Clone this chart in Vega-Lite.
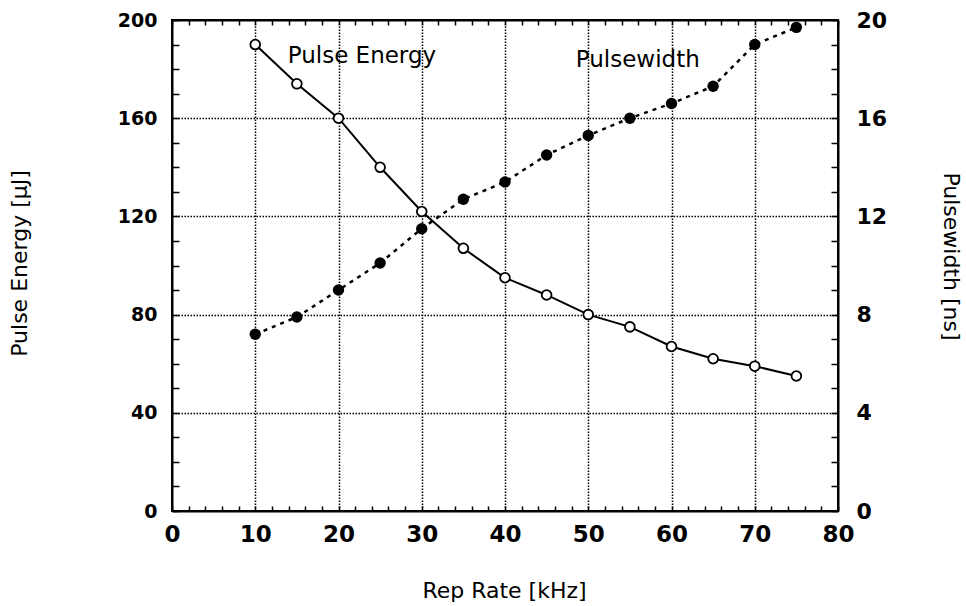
{
  "$schema": "https://vega.github.io/schema/vega-lite/v6.json",
  "width": 666,
  "height": 491,
  "autosize": {"type": "none"},
  "padding": {"left": 172, "top": 20, "right": 128, "bottom": 95},
  "background": "white",
  "config": {
    "view": {"stroke": "black", "strokeWidth": 2},
    "axis": {
      "domainColor": "black",
      "domainWidth": 2,
      "tickColor": "black",
      "tickWidth": 1.5,
      "labelColor": "black",
      "labelFont": "DejaVu Sans",
      "labelFontWeight": "bold",
      "labelOverlap": false,
      "labelFlush": false,
      "titleColor": "black",
      "titleFont": "DejaVu Sans",
      "titleFontWeight": "normal",
      "titleFontSize": 22,
      "gridColor": "black",
      "gridDash": [1.5, 1.5],
      "gridWidth": 1.5,
      "gridOpacity": 1
    }
  },
  "datasets": {
    "energy": [
      {"rate": 10, "energy": 190},
      {"rate": 15, "energy": 174},
      {"rate": 20, "energy": 160},
      {"rate": 25, "energy": 140},
      {"rate": 30, "energy": 122},
      {"rate": 35, "energy": 107},
      {"rate": 40, "energy": 95},
      {"rate": 45, "energy": 88},
      {"rate": 50, "energy": 80},
      {"rate": 55, "energy": 75},
      {"rate": 60, "energy": 67},
      {"rate": 65, "energy": 62},
      {"rate": 70, "energy": 59},
      {"rate": 75, "energy": 55}
    ],
    "pw": [
      {"rate": 10, "pulsewidth": 7.2},
      {"rate": 15, "pulsewidth": 7.9},
      {"rate": 20, "pulsewidth": 9.0},
      {"rate": 25, "pulsewidth": 10.1},
      {"rate": 30, "pulsewidth": 11.5},
      {"rate": 35, "pulsewidth": 12.7},
      {"rate": 40, "pulsewidth": 13.4},
      {"rate": 45, "pulsewidth": 14.5},
      {"rate": 50, "pulsewidth": 15.3},
      {"rate": 55, "pulsewidth": 16.0},
      {"rate": 60, "pulsewidth": 16.6},
      {"rate": 65, "pulsewidth": 17.3},
      {"rate": 70, "pulsewidth": 19.0},
      {"rate": 75, "pulsewidth": 19.7}
    ],
    "labels": [
      {"label": "Pulse Energy", "lx": 13.9, "ly": 182.4},
      {"label": "Pulsewidth", "lx": 48.5, "ly": 180.7}
    ]
  },
  "layer": [
    {
      "data": {"name": "energy"},
      "mark": {"type": "line", "color": "black", "strokeWidth": 2},
      "encoding": {
        "x": {
          "field": "rate",
          "type": "quantitative",
          "scale": {"domain": [0, 80], "nice": false, "zero": false},
          "axis": {
            "orient": "bottom",
            "values": [0,2,4,6,8,10,12,14,16,18,20,22,24,26,28,30,32,34,36,38,40,42,44,46,48,50,52,54,56,58,60,62,64,66,68,70,72,74,76,78,80],
            "labelExpr": "datum.value % 10 === 0 ? datum.label : ''",
            "grid": false,
            "tickSize": -5,
            "labelFontSize": 23,
            "labelPadding": 17,
            "title": "Rep Rate [kHz]",
            "titleX": 332,
            "titleY": 86,
            "titleBaseline": "alphabetic"
          }
        },
        "y": {
          "field": "energy",
          "type": "quantitative",
          "scale": {"domain": [0, 200], "nice": false},
          "axis": {
            "orient": "left",
            "values": [0,10,20,30,40,50,60,70,80,90,100,110,120,130,140,150,160,170,180,190,200],
            "labelExpr": "datum.value % 40 === 0 ? datum.label : ''",
            "grid": false,
            "tickSize": -7,
            "labelFontSize": 19,
            "labelPadding": 22,
            "title": "Pulse Energy [µJ]",
            "titleX": -153,
            "titleY": 243,
            "titleBaseline": "middle"
          }
        }
      }
    },
    {
      "data": {"name": "energy"},
      "mark": {"type": "point", "shape": "circle", "filled": true, "fill": "white", "stroke": "black", "strokeWidth": 1.8, "size": 95, "opacity": 1},
      "encoding": {
        "x": {
          "field": "rate",
          "type": "quantitative",
          "axis": {
            "orient": "bottom",
            "values": [10, 20, 30, 40, 50, 60, 70],
            "grid": true,
            "ticks": false,
            "labels": false,
            "domain": false,
            "title": null
          }
        },
        "y": {
          "field": "energy",
          "type": "quantitative",
          "scale": {"domain": [0, 200], "nice": false},
          "axis": {
            "orient": "left",
            "values": [40, 80, 120, 160],
            "grid": true,
            "ticks": false,
            "labels": false,
            "domain": false,
            "title": null
          }
        }
      }
    },
    {
      "data": {"name": "labels"},
      "mark": {"type": "text", "align": "left", "baseline": "alphabetic", "font": "DejaVu Sans", "fontSize": 23, "color": "black"},
      "encoding": {
        "x": {"field": "lx", "type": "quantitative", "axis": null},
        "y": {"field": "ly", "type": "quantitative", "scale": {"domain": [0, 200], "nice": false}, "axis": null},
        "text": {"field": "label"}
      }
    },
    {
      "data": {"name": "pw"},
      "mark": {"type": "line", "color": "black", "strokeWidth": 2.5, "strokeDash": [4, 5]},
      "encoding": {
        "x": {
          "field": "rate",
          "type": "quantitative",
          "axis": {
            "orient": "top",
            "values": [0,2,4,6,8,10,12,14,16,18,20,22,24,26,28,30,32,34,36,38,40,42,44,46,48,50,52,54,56,58,60,62,64,66,68,70,72,74,76,78,80],
            "labels": false,
            "grid": false,
            "tickSize": -5,
            "title": null
          }
        },
        "y": {
          "field": "pulsewidth",
          "type": "quantitative",
          "scale": {"domain": [0, 20], "nice": false},
          "axis": {
            "orient": "right",
            "values": [0,1,2,3,4,5,6,7,8,9,10,11,12,13,14,15,16,17,18,19,20],
            "labelExpr": "datum.value % 4 === 0 ? datum.label : ''",
            "grid": false,
            "tickSize": -7,
            "labelFontSize": 22,
            "labelPadding": 25,
            "title": "Pulsewidth [ns]",
            "titleX": 112,
            "titleY": 236,
            "titleBaseline": "middle"
          }
        }
      }
    },
    {
      "data": {"name": "pw"},
      "mark": {"type": "point", "shape": "circle", "filled": true, "color": "black", "size": 130, "opacity": 1},
      "encoding": {
        "x": {"field": "rate", "type": "quantitative", "axis": null},
        "y": {"field": "pulsewidth", "type": "quantitative", "scale": {"domain": [0, 20], "nice": false}, "axis": null}
      }
    }
  ],
  "resolve": {
    "scale": {"y": "independent"},
    "axis": {"x": "independent", "y": "independent"}
  }
}
